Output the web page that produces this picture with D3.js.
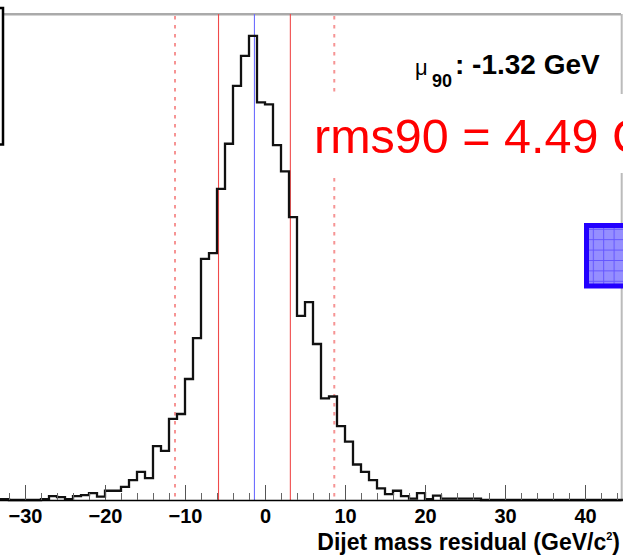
<!DOCTYPE html>
<html>
<head>
<meta charset="utf-8">
<script src="https://cdn.jsdelivr.net/npm/d3@7/dist/d3.min.js"></script>
<style>
  body { margin: 0; background: #fff; }
  text { font-family: "Liberation Sans", Arial, Helvetica, sans-serif; }
</style>
</head>
<body>
<div id="chart"></div>
<script>

// Histogram of dijet mass residual, 1 GeV bins starting at -34 GeV
const firstBinEdge = -34;
const binWidth = 1;
const binCounts = [
  2, 2, 0, 0, 0, 0, 2, 8, 6, 2,          // -34 .. -25
  8, 10, 14, 7, 19, 19, 27, 41, 58, 45,  // -24 .. -15
  111, 101, 167, 177, 249, 333, 496, 508, 640, 733, // -14 .. -5
  852, 914, 955, 818, 814, 730, 676, 582, 379, 407, // -4 .. 5
  321, 209, 213, 152, 120, 73, 58, 41, 24, 12,      // 6 .. 15
  19, 8, 3, 14, 2, 9, 3, 3, 3, 3,                   // 16 .. 25
  3, 0, 0, 0, 0, 0, 0, 0, 0, 0,                     // 26 .. 35
  0, 0, 0, 0, 0, 0, 0, 0, 0                         // 36 .. 44
];

// Summary values
const mu90 = -1.32;
const rms90 = 4.49;
const dashedEdges = [-11.25, 8.66];

// Axis ticks (only the visible part of the axis)
const majorTicks = [-30, -20, -10, 0, 10, 20, 30, 40];
const minorTicks = [-32, -28, -26, -24, -22, -18, -16, -14, -12,
  -8, -6, -4, -2, 2, 4, 6, 8, 12, 14, 16, 18, 22, 24, 26, 28, 32, 34, 36, 38, 42, 44];
const xTitle = "Dijet mass residual (GeV/c";

function drawResidual(width, height, selector) {

  ///////////////////////////////////////////
  //// Dimensions, scales and generators ////
  ///////////////////////////////////////////

  let frameTop = 14;
  let axisY = 500;

  let xPositionScale = d3.scaleLinear()
    .domain([-40, 44.5])
    .range([-55, 621]);

  let yPositionScale = d3.scaleLinear()
    .domain([0, 1000])
    .range([axisY, frameTop]);

  // step points: left edge of every bin plus the closing edge
  let steps = binCounts.map((c, i) => ({ x: firstBinEdge + i * binWidth, y: c }));
  steps.push({ x: firstBinEdge + binCounts.length * binWidth, y: binCounts[binCounts.length - 1] });

  let histLine = d3.line()
    .curve(d3.curveStepAfter)
    .x(d => xPositionScale(d.x))
    .y(d => yPositionScale(d.y));

  //////////////////////////
  /// Building the chart ///
  //////////////////////////

  let svg = d3.select(selector)
    .append("svg")
    .attr("width", width)
    .attr("height", height);

  let defs = svg.append("defs");
  let pat = defs.append("pattern")
    .attr("id", "grid")
    .attr("patternUnits", "userSpaceOnUse")
    .attr("width", 10.4)
    .attr("height", 10.4);
  pat.append("rect").attr("width", 10.4).attr("height", 10.4).attr("fill", "#958eff");
  pat.append("path").attr("d", "M0,0.5H10.4M0.5,0V10.4")
    .attr("stroke", "#6456ff").attr("stroke-width", 1);

  // frame (top and right edges are grey)
  svg.append("line")
    .attr("x1", 0).attr("x2", xPositionScale(44.5))
    .attr("y1", frameTop + 0.3).attr("y2", frameTop + 0.3)
    .attr("stroke", "#aaa").attr("stroke-width", 2.5);
  svg.append("line")
    .attr("x1", xPositionScale(44.5) + 0.7).attr("x2", xPositionScale(44.5) + 0.7)
    .attr("y1", frameTop).attr("y2", axisY)
    .attr("stroke", "#bbb").attr("stroke-width", 2);

  // dashed window lines
  svg.selectAll(".dashed")
    .data(dashedEdges)
    .enter().append("line")
    .attr("class", "dashed")
    .attr("x1", d => xPositionScale(d)).attr("x2", d => xPositionScale(d))
    .attr("y1", frameTop + 2).attr("y2", axisY)
    .attr("stroke", "#f69494").attr("stroke-width", 2)
    .attr("stroke-dasharray", "3.5,5.5");

  // mu90 +- rms90
  svg.selectAll(".solid")
    .data([mu90 - rms90, mu90 + rms90])
    .enter().append("line")
    .attr("class", "solid")
    .attr("x1", d => xPositionScale(d)).attr("x2", d => xPositionScale(d))
    .attr("y1", frameTop).attr("y2", axisY)
    .attr("stroke", "#f04a4a").attr("stroke-width", 1.1);

  svg.append("line")
    .attr("x1", xPositionScale(mu90)).attr("x2", xPositionScale(mu90))
    .attr("y1", frameTop).attr("y2", axisY)
    .attr("stroke", "#6e6eff").attr("stroke-width", 1.1);

  // histogram
  svg.append("path")
    .attr("d", histLine(steps))
    .attr("fill", "none")
    .attr("stroke", "#111")
    .attr("stroke-width", 2.3);

  // axis
  let xAxis = d3.axisBottom(xPositionScale)
    .tickValues(majorTicks)
    .tickSize(-15)
    .tickSizeOuter(0)
    .tickFormat(d3.format("d"));

  let axisG = svg.append("g")
    .attr("transform", "translate(0," + axisY + ")")
    .call(xAxis);

  axisG.select(".domain").attr("stroke", "#000").attr("stroke-width", 1.6);
  axisG.selectAll(".tick line").attr("stroke", "#555");
  axisG.selectAll(".tick text")
    .attr("y", 23)
    .attr("dy", null)
    .attr("fill", "#000")
    .style("font-size", "20px")
    .style("font-weight", "bold")
    .style("font-family", "'Liberation Sans', Arial, sans-serif");

  let minorAxis = d3.axisBottom(xPositionScale)
    .tickValues(minorTicks)
    .tickSize(-7)
    .tickSizeOuter(0)
    .tickFormat("");

  let minorG = svg.append("g")
    .attr("transform", "translate(0," + axisY + ")")
    .call(minorAxis);
  minorG.select(".domain").remove();
  minorG.selectAll(".tick line").attr("stroke", "#666");

  // axis title
  let title = svg.append("text")
    .attr("x", 620)
    .attr("y", 550)
    .attr("text-anchor", "end")
    .style("font-size", "23px")
    .style("font-weight", "bold")
    .attr("fill", "#000");
  title.append("tspan").text(xTitle);
  title.append("tspan").attr("dy", -10).style("font-size", "11px").text("2");
  title.append("tspan").attr("dy", 10).text(")");

  // legend box cut at the left edge
  svg.append("rect")
    .attr("x", -20).attr("y", 8)
    .attr("width", 23).attr("height", 136.5)
    .attr("fill", "#fff")
    .attr("stroke", "#000").attr("stroke-width", 2.5);

  // mu90 label
  let muLabel = svg.append("text")
    .attr("x", 415)
    .attr("y", 75)
    .attr("fill", "#000");
  muLabel.append("tspan").style("font-size", "22px").text("\u03bc");
  muLabel.append("tspan").attr("x", 432).attr("dy", 12)
    .style("font-size", "18px").style("font-weight", "bold").text("90");
  muLabel.append("tspan").attr("x", 455).attr("dy", -13)
    .style("font-size", "28px").style("font-weight", "bold")
    .text(": " + d3.format(".2f")(mu90).replace("\u2212", "-") + " GeV");

  // rms90 pave with white background
  svg.append("rect")
    .attr("x", 300).attr("y", 94)
    .attr("width", 340).attr("height", 79)
    .attr("fill", "#fff");

  svg.append("text")
    .attr("x", 314)
    .attr("y", 153)
    .attr("fill", "#ff0000")
    .style("font-size", "48.5px")
    .text("rms90 = " + d3.format(".2f")(rms90) + " GeV");

  // blue filled sample box at the right
  svg.append("rect")
    .attr("x", 586.5).attr("y", 225.5)
    .attr("width", 50).attr("height", 60.5)
    .attr("fill", "url(#grid)")
    .attr("stroke", "#2200ff").attr("stroke-width", 5);
}

drawResidual(623, 557, "#chart");
</script>
</body>
</html>
